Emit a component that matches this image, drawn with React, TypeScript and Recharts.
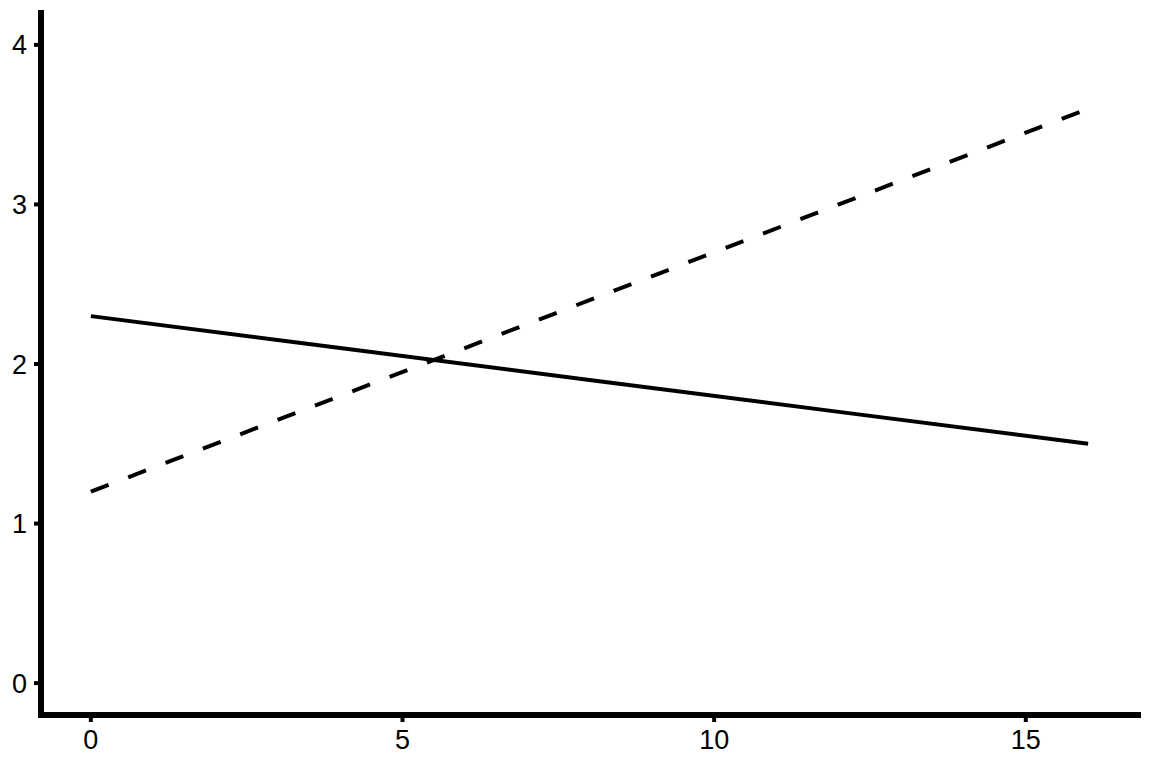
import { LineChart, Line, XAxis, YAxis } from "recharts";

const xValues = [0, 4, 8, 12, 16];
const solidValues = [2.3, 2.1, 1.9, 1.7, 1.5];
const dashedValues = [1.2, 1.8, 2.4, 3.0, 3.6];
const xTicks = [0, 5, 10, 15];
const yTicks = [0, 1, 2, 3, 4];

const data = xValues.map((x, i) => ({ x, solid: solidValues[i], dashed: dashedValues[i] }));

const axisLine = { stroke: "#000", strokeWidth: 6, strokeLinecap: "square" as const };
const tickLine = { stroke: "#000", strokeWidth: 4 };
const tickStyle = { fill: "#000", fontSize: 27, fontFamily: "Liberation Sans, Arial, sans-serif" };

export default function App() {
  return (
    <div style={{ position: "absolute", left: 0, top: 0, background: "#fff" }}>
      <LineChart width={1152} height={768} data={data} margin={{ top: 13, right: 14, bottom: 0, left: 0 }}>
        <XAxis
          dataKey="x"
          type="number"
          domain={[-0.8, 16.8]}
          ticks={xTicks}
          height={53}
          axisLine={axisLine}
          tickLine={tickLine}
          tickSize={7}
          tickMargin={8}
          tick={tickStyle}
          allowDataOverflow
        />
        <YAxis
          type="number"
          domain={[-0.2, 4.2]}
          ticks={yTicks}
          width={41}
          axisLine={axisLine}
          tickLine={tickLine}
          tickSize={7}
          tickMargin={7}
          tick={tickStyle}
          allowDataOverflow
        />
        <Line
          type="linear"
          dataKey="solid"
          stroke="#000"
          strokeWidth={4}
          dot={false}
          isAnimationActive={false}
        />
        <Line
          type="linear"
          dataKey="dashed"
          stroke="#000"
          strokeWidth={4}
          strokeDasharray="19 21"
          dot={false}
          isAnimationActive={false}
        />
      </LineChart>
    </div>
  );
}
